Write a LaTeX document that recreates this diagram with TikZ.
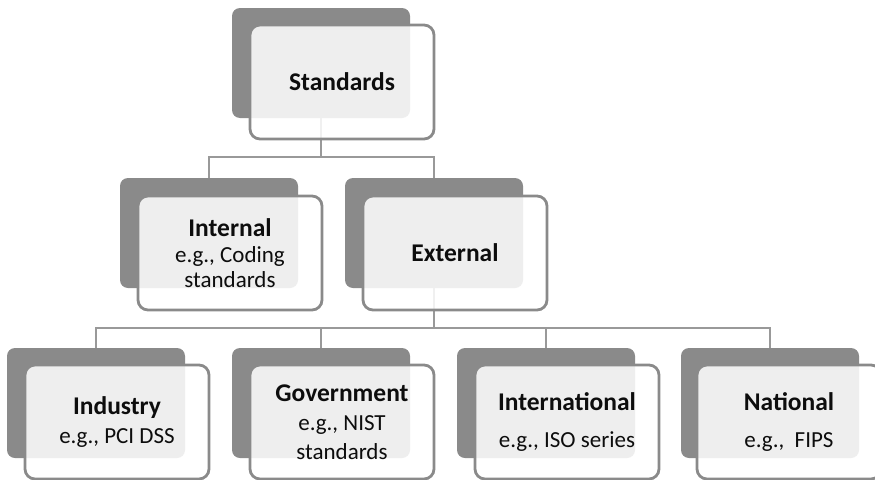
\documentclass[tikz,border=0pt]{standalone}
\usepackage{fontspec}
\setmainfont{Carlito}
\usetikzlibrary{calc,backgrounds}
% bold heading, set a little larger than the example lines
\newcommand\boxhead[1]{{\fontsize{25.5}{29}\selectfont\bfseries #1}}
\begin{document}
\begin{tikzpicture}[x=1pt,y=-1pt,
  backbox/.style={rectangle,rounded corners=8pt,fill=shadegray,draw=none,
    minimum width=178pt,minimum height=110pt,inner sep=0pt},
  frontbox/.style={rectangle,rounded corners=10pt,draw=edgegray,line width=2.8pt,
    fill=white,fill opacity=0.86,text opacity=1,text=black!95,
    minimum width=184pt,minimum height=114pt,inner sep=2pt,align=center,
    font=\fontsize{23}{29}\selectfont},
  conn/.style={draw=linegray,line width=2.8pt}]
\definecolor{shadegray}{HTML}{8A8A8A}
\definecolor{edgegray}{HTML}{8A8A8A}
\definecolor{linegray}{HTML}{999999}
\useasboundingbox (0,0) rectangle (875,479);

% shadow boxes (their centres carry the connectors)
\node[backbox] (std) at (321,63) {};
\node[backbox] (int) at (209,233) {};
\node[backbox] (ext) at (434,233) {};
\node[backbox] (ind) at (96,403) {};
\node[backbox] (gov) at (321,403) {};
\node[backbox] (intl) at (546,403) {};
\node[backbox] (nat) at (770,403) {};

% connectors, kept beneath the boxes
\coordinate (bus1) at (321,157);
\coordinate (bus2) at (434,328);
\begin{pgfonlayer}{background}
\draw[conn] (std.center) -- (bus1);
\draw[conn] (int.center) |- (bus1) -| (ext.center);
\draw[conn] (ext.center) -- (bus2);
\draw[conn] (ind.center) |- (bus2) -| (nat.center);
\draw[conn] (gov.center) -- (gov.center |- bus2);
\draw[conn] (intl.center) -- (intl.center |- bus2);
\end{pgfonlayer}

% front boxes with labels
\node[frontbox] (stdF) at ($(std)+(21,19)$) {\boxhead{Standards}};
\node[frontbox] (intF) at ($(int)+(21,20)$) {\boxhead{Internal}\\[-3pt]e.g., Coding\\[-4pt]standards};
\node[frontbox] (extF) at ($(ext)+(21,20)$) {\boxhead{External}};
\node[frontbox] (indF) at ($(ind)+(21,19)$) {\boxhead{Industry}\\e.g., PCI DSS};
\node[frontbox] (govF) at ($(gov)+(21,19)$) {\boxhead{Government}\\e.g., NIST\\standards};
\node[frontbox] (intlF) at ($(intl)+(21,19)$) {\boxhead{International}\\[8pt]e.g., ISO series};
\node[frontbox] (natF) at ($(nat)+(19,19)$) {\boxhead{National}\\[8pt]e.g.,\ \ FIPS};
\end{tikzpicture}
\end{document}
